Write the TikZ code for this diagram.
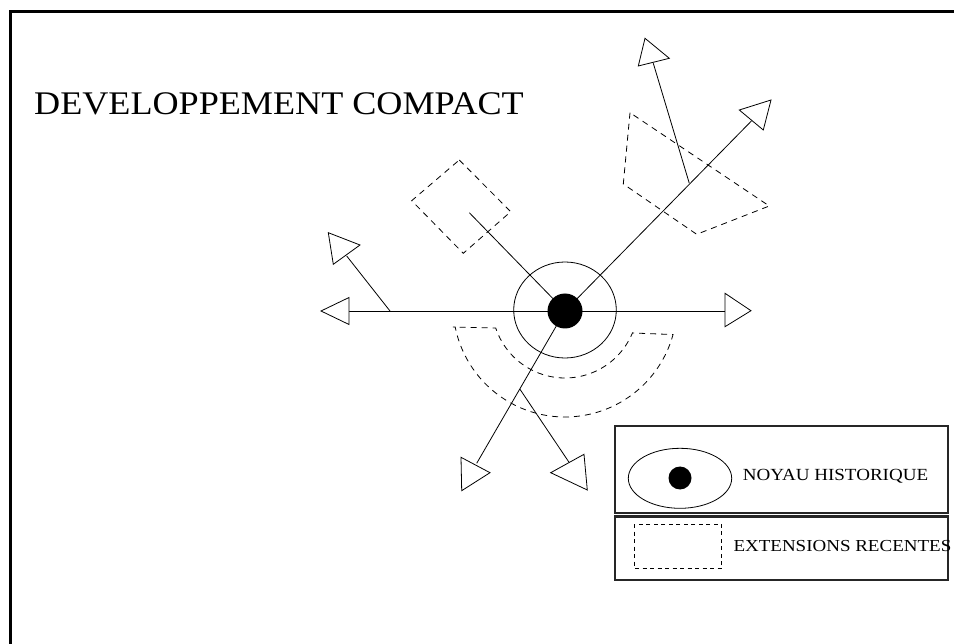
\documentclass[tikz,border=0pt]{standalone}
\usepackage{fontspec}
\setmainfont{Liberation Serif}
\usetikzlibrary{shapes.geometric}
\begin{document}
\begin{tikzpicture}[x=1pt,y=-1pt,
  thin line/.style={line width=0.8pt,black},
  dashline/.style={line width=0.8pt,dash pattern=on 6pt off 5pt},
  tri/.style={line width=0.8pt,fill=white,line join=miter},
  legbox/.style={line width=2.6pt,draw=black!85},
  txt/.style={inner sep=0pt,anchor=base west}]
\useasboundingbox (0,0) rectangle (954,644);
\fill[white] (0,0) rectangle (954,644);
% frame
\draw[line width=3pt] (10,644) -- (10,11.5) -- (954,11.5);
% title
\node[txt,xscale=1.095] (title) at (34,114.3) {\fontsize{33}{36}\selectfont DEVELOPPEMENT COMPACT};
% coordinates
\coordinate (C) at (565,311);
\coordinate (Lend) at (349,311);
\coordinate (Rend) at (725,311);
\coordinate (B1) at (390,311);
\coordinate (ULend) at (346.7,256);
\coordinate (DiagUL) at (469.3,212.7);
\coordinate (UR) at (751.7,120.7);
\coordinate (B2) at (689.3,183.3);
\coordinate (Topend) at (653.3,63.3);
\coordinate (DL) at (476.7,463.3);
\coordinate (B3) at (520,389.3);
\coordinate (DR) at (569.3,462.7);
% dashed extensions
\draw[dashline] (459.3,160) -- (510.7,211.7) -- (463.3,253.3) -- (411.7,200.7) -- cycle;
\draw[dashline] (630,112.7) -- (623.3,184) -- (696.7,234.3) -- (769.3,206) -- cycle;
\draw[dashline] (453,327)
  -- plot[smooth,domain=168.7:15.3,samples=60] ({565+112*cos(\x)},{305+112*sin(\x)})
  -- (633,333)
  -- plot[smooth,domain=22.4:161.6,samples=50] ({565+73*cos(\x)},{305+73*sin(\x)})
  -- cycle;
% lines
\draw[thin line] (Lend) -- (Rend);
\draw[thin line] (B1) -- (ULend);
\draw[thin line] (C) -- (DiagUL);
\draw[thin line] (C) -- (UR);
\draw[thin line] (B2) -- (Topend);
\draw[thin line] (C) -- (DL);
\draw[thin line] (B3) -- (DR);
% nucleus
\node[draw,ellipse,line width=0.8pt,minimum width=102.6pt,minimum height=96pt,inner sep=0pt] (noyau) at (565,310) {};
\fill (C) circle (17.5);
% arrow triangles
\draw[tri] (321,311) -- (349,297.5) -- (349,324.5) -- cycle;
\draw[tri] (328.3,232.7) -- (360,245) -- (333.3,264.3) -- cycle;
\draw[tri] (739.3,110) -- (771,100) -- (763.3,130) -- cycle;
\draw[tri] (645,38.3) -- (669.3,58.3) -- (638.3,66) -- cycle;
\draw[tri] (725,293.3) -- (751,310.7) -- (725,326.7) -- cycle;
\draw[tri] (461,457.3) -- (490,472.7) -- (461.7,490.7) -- cycle;
\draw[tri] (550.7,472.7) -- (584,454.3) -- (587.3,490) -- cycle;
% legend
\draw[legbox] (615,426) rectangle (948,513);
\draw[legbox] (615,516.5) rectangle (948,580);
\draw[line width=0.8pt] (680,478.3) ellipse [x radius=51.7, y radius=30];
\fill (680,478) circle (11.5);
\node[txt,xscale=1.12] (leg1) at (742.7,480.7) {\fontsize{17}{20}\selectfont NOYAU HISTORIQUE};
\draw[line width=0.7pt,dash pattern=on 4pt off 3.5pt] (634.3,524) rectangle (721.7,568.3);
\node[txt,xscale=1.13] (leg2) at (733.3,551) {\fontsize{16.8}{19}\selectfont EXTENSIONS RECENTES};
\end{tikzpicture}
\end{document}
